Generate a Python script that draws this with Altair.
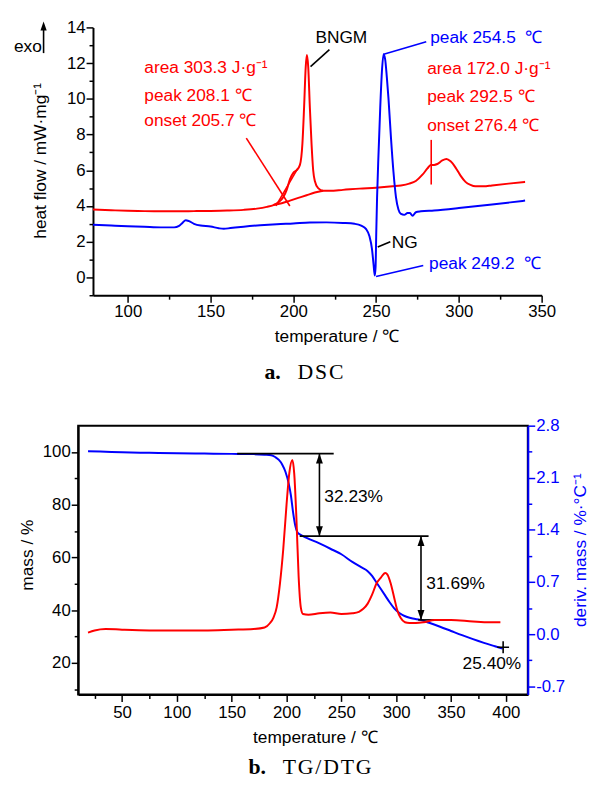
import altair as alt
import pandas as pd

FONT = "Liberation Sans, Arial, sans-serif"
SERIF = "Liberation Serif, DejaVu Serif, serif"
RED = "#ff0000"
BLUE = "#0000ff"
BLACK = "#000000"
FS = 17.5
LFS = 17

# ---------------- panel a: DSC ----------------
bngm_temp = [79, 90, 100, 110, 120, 130, 140, 150, 160, 170, 178, 184, 188, 191, 194, 196, 198, 200, 202, 204,
             205.5, 206.5, 207.5, 208.2, 209, 210, 211, 212, 213, 215, 218, 222, 230, 240, 250, 260, 265, 270, 274, 278,
             281, 283, 285, 287, 290, 292.5, 295, 298, 301, 304, 307, 310, 315, 320, 330, 340]
bngm_heat = [3.8, 3.76, 3.73, 3.71, 3.7, 3.7, 3.71, 3.72, 3.74, 3.78, 3.85, 3.95, 4.05, 4.2, 4.5, 4.9, 5.5, 5.85, 6.0, 6.3,
             7.5, 9.5, 11.8, 12.45, 11.8, 9.5, 7.5, 6.0, 5.4, 5.0, 4.85, 4.85, 4.9, 4.97, 5.02, 5.1, 5.15, 5.25, 5.4, 5.75,
             6.1, 6.3, 6.3, 6.35, 6.55, 6.63, 6.5, 6.15, 5.7, 5.35, 5.18, 5.1, 5.1, 5.15, 5.25, 5.35]
bngm_base_temp = [188, 193, 198, 203, 208, 213, 218]
bngm_base_heat = [4.05, 4.15, 4.3, 4.45, 4.6, 4.75, 4.85]

ng_temp = [79, 90, 100, 110, 120, 128, 131, 133, 135, 137, 140, 144, 150, 155, 158, 162, 170, 180, 190, 200,
           210, 220, 230, 237, 241, 244, 246, 247.5, 248.5, 249.2, 249.7, 250.1, 250.6, 251.5, 252.5, 253.5, 254.5, 255.5, 256.5, 257.5,
           259, 260.5, 262, 263.5, 265, 267, 269, 270.5, 272, 274, 277, 285, 300, 320, 340]
ng_heat = [2.95, 2.9, 2.86, 2.83, 2.8, 2.8, 2.88, 3.05, 3.2, 3.15, 3.0, 2.9, 2.85, 2.75, 2.72, 2.76, 2.84, 2.92, 2.98, 3.02,
           3.07, 3.08, 3.05, 3.0, 2.9, 2.7, 2.3, 1.6, 0.7, 0.1, 0.6, 2.5, 4.5, 7.0, 9.5, 11.5, 12.5, 12.2, 11.2, 10.0,
           7.8, 5.9, 4.5, 3.8, 3.55, 3.5, 3.6, 3.6, 3.45, 3.65, 3.7, 3.75, 3.88, 4.08, 4.3]

dsc_seg_x = [171.6, 189.5, 283.3, 221.8, 254.6, 251.0, 250.0]
dsc_seg_x2 = [197.9, 202.7, 283.3, 210.4, 280.3, 258.6, 278.5]
dsc_seg_y = [7.8, 4.0, 5.2, 12.76, 12.5, 1.7, 0.05]
dsc_seg_y2 = [4.0, 6.1, 7.7, 11.8, 13.2, 2.0, 0.66]
dsc_seg_c = [RED, RED, RED, BLACK, BLUE, BLACK, BLUE]

dsc_txt = ["area 303.3 J·g⁻¹", "peak 208.1 ℃", "onset 205.7 ℃",
           "area 172.0 J·g⁻¹", "peak 292.5 ℃", "onset 276.4 ℃",
           "peak 254.5\u00a0 ℃", "NG", "peak 249.2\u00a0 ℃"]
dsc_txt_x = [110, 110, 110, 280.9, 280.9, 280.9, 282.7, 259.5, 282.0]
dsc_txt_y = [11.75, 10.17, 8.73, 11.65, 10.1, 8.5, 13.4, 1.93, 0.72]
dsc_txt_c = [RED, RED, RED, RED, RED, RED, BLUE, BLACK, BLUE]

# ---------------- panel b: TG / DTG ----------------
tg_temp = [19, 30, 50, 75, 100, 125, 150, 170, 180, 186, 190, 193, 196, 199, 202, 204, 206, 208, 210, 212,
           215, 230, 240, 250, 260, 268, 274, 278, 282, 286, 290, 294, 298, 302, 306, 310, 315, 322, 330,
           340, 350, 360, 370, 380, 390, 397]
tg_mass = [100.3, 100.2, 99.9, 99.7, 99.5, 99.4, 99.3, 99.2, 99.0, 98.8, 98.0, 97.0, 95.3, 92.5, 88.0, 83.5, 77.0, 72.0, 69.5, 68.8,
           68.1, 65.3, 63.3, 61.2, 58.3, 56.3, 54.8, 53.0, 50.5, 48.0, 45.5, 43.0, 40.8, 39.2, 38.1, 37.4, 36.8, 36.3, 35.2,
           33.7, 32.1, 30.5, 29.0, 27.6, 26.3, 25.4]

dtg_temp = [19, 25, 35, 50, 75, 100, 125, 150, 170, 180, 185, 188, 191, 194, 197, 200, 202.5, 205.3, 207, 209,
            211, 213, 215, 220, 230, 240, 250, 260, 266, 270, 274, 278, 282, 286, 290, 292, 295, 298, 301, 304,
            308, 312, 318, 325, 335, 350, 370, 385, 395]
dtg_deriv = [0.02, 0.05, 0.07, 0.06, 0.05, 0.05, 0.05, 0.06, 0.07, 0.09, 0.15, 0.22, 0.36, 0.68, 1.14, 1.74, 2.16, 2.34, 2.16, 1.56,
             0.78, 0.36, 0.27, 0.26, 0.28, 0.29, 0.27, 0.28, 0.30, 0.34, 0.41, 0.53, 0.68, 0.76, 0.82, 0.80, 0.68, 0.50, 0.32, 0.22,
             0.16, 0.15, 0.15, 0.16, 0.19, 0.19, 0.17, 0.16, 0.16]

tg_seg_x = [155, 230, 212, 322.6, 320]
tg_seg_x2 = [243, 230, 329.5, 322.6, 336]
tg_seg_y = [99.4, 99.4, 68.1, 68.1, 36.3]
tg_seg_y2 = [99.4, 68.1, 68.1, 36.3, 36.3]
arrow_up_x = [230, 322.6]
arrow_up_y = [99.4, 68.1]
arrow_dn_x = [230, 322.6]
arrow_dn_y = [68.1, 36.3]
tg_txt = ["32.23%", "31.69%"]
tg_txt_x = [234.5, 327.5]
tg_txt_y = [83.0, 50.0]
residue_txt = ["25.40%"]
residue_x = [414]
residue_y = [19.4]
cross_x = [397.5]
cross_y = [25.9]

# tick positions (major ones labelled)
dsc_x_ticks = [100, 125, 150, 175, 200, 225, 250, 275, 300, 325, 350]
dsc_y_ticks = [-1, 0, 1, 2, 3, 4, 5, 6, 7, 8, 9, 10, 11, 12, 13, 14]
tg_x_ticks = [25, 50, 75, 100, 125, 150, 175, 200, 225, 250, 275, 300, 325, 350, 375, 400]
tg_y_ticks = [10, 20, 30, 40, 50, 60, 70, 80, 90, 100]
dtg_y_ticks = [-0.7, -0.35, 0, 0.35, 0.7, 1.05, 1.4, 1.75, 2.1, 2.45, 2.8]

# ---------------- helpers ----------------
one = pd.DataFrame({"k": [0]})


def tick_axis(values, step, fmt, color=BLACK, orient="left", offset=0, pad=2):
    test = f"abs(datum.value / {step} - round(datum.value / {step})) < 0.01"
    return alt.Axis(values=values, orient=orient, offset=offset,
                    labelExpr=f"{test} ? replace(format(datum.value, '{fmt}'), '\u2212', '-') : ''",
                    tickSize={"condition": {"test": test, "value": 7}, "value": 4},
                    domainColor=color, tickColor=color, labelColor=color, labelPadding=pad,
                    title=None, grid=False, labelOverlap=False, labelFlush=False,
                    labelFont=FONT, labelFontSize=LFS, domainWidth=2, tickWidth=1.5)


def ptext(txt, x, y, angle=0, color=BLACK, font=FONT, size=FS, weight="normal", align="center"):
    return alt.Chart(one).mark_text(text=txt, angle=angle, color=color, font=font, fontSize=size,
                                    fontWeight=weight, align=align, baseline="middle").encode(
        x=alt.value(x), y=alt.value(y))


UP = "M0,0L-0.35,1L0.35,1Z"
DOWN = "M0,0L-0.35,-1L0.35,-1Z"
TIP_UP = "M0,-1L-0.35,0L0.35,0Z"

# ---------------- top chart ----------------
dx = alt.Scale(domain=[79, 350], range=[15, 469], nice=False, zero=False)
dy = alt.Scale(domain=[-1, 14], nice=False, zero=False)
ax_dx = tick_axis(dsc_x_ticks, 50, "d", orient="bottom")
ax_dy = tick_axis(dsc_y_ticks, 2, "d", orient="left", offset=-15, pad=1)

XD = alt.X("x:Q", scale=dx, axis=ax_dx)
YD = alt.Y("y:Q", scale=dy, axis=ax_dy)

red_dsc = alt.Chart(pd.DataFrame({"x": bngm_temp, "y": bngm_heat})).mark_line(
    color=RED, strokeWidth=2, interpolate="monotone").encode(x=XD, y=YD)
red_base = alt.Chart(pd.DataFrame({"x": bngm_base_temp, "y": bngm_base_heat})).mark_line(
    color=RED, strokeWidth=2, interpolate="monotone").encode(x=XD, y=YD)
blue_dsc = alt.Chart(pd.DataFrame({"x": ng_temp, "y": ng_heat})).mark_line(
    color=BLUE, strokeWidth=2, interpolate="monotone").encode(x=XD, y=YD)
dsc_rules = alt.Chart(pd.DataFrame({"x": dsc_seg_x, "x2": dsc_seg_x2, "y": dsc_seg_y, "y2": dsc_seg_y2,
                                    "c": dsc_seg_c})).mark_rule(strokeWidth=1.6).encode(
    x=XD, x2="x2:Q", y=YD, y2="y2:Q", color=alt.Color("c:N", scale=None))
dsc_texts = alt.Chart(pd.DataFrame({"x": dsc_txt_x, "y": dsc_txt_y, "s": dsc_txt, "c": dsc_txt_c})).mark_text(
    align="left", baseline="middle", font=FONT, fontSize=FS).encode(
    x=XD, y=YD, text="s:N", color=alt.Color("c:N", scale=None))
bngm_label = alt.Chart(pd.DataFrame({"x": [229], "y": [13.4], "s": ["BNGM"]})).mark_text(
    align="center", baseline="middle", font=FONT, fontSize=FS, color=BLACK).encode(x=XD, y=YD, text="s:N")

exo_txt = ptext("exo", -65, 20, align="left")
exo_shaft = alt.Chart(one).mark_rule(color=BLACK, strokeWidth=1.6).encode(
    x=alt.value(-35), y=alt.value(26), y2=alt.value(1))
exo_head = alt.Chart(one).mark_point(shape=TIP_UP, filled=True, color=BLACK, size=324, opacity=1).encode(
    x=alt.value(-35), y=alt.value(3))
top_ytitle = ptext("heat flow / mW·mg⁻¹", -38, 135, angle=270)
top_xtitle = ptext("temperature / ℃", 262, 313)
cap_a1 = ptext("a.", 205, 349, font=SERIF, size=22, weight="bold", align="right")
cap_a2 = ptext("D\u200aS\u200aC", 222, 349, font=SERIF, size=22, align="left")

top = alt.layer(red_dsc, red_base, blue_dsc, dsc_rules, dsc_texts, bngm_label,
                exo_txt, exo_shaft, exo_head, top_ytitle, top_xtitle, cap_a1, cap_a2).properties(
    width=469, height=271, view=alt.ViewBackground(stroke="transparent"))

# ---------------- bottom chart ----------------
tx = alt.Scale(domain=[10, 420], nice=False, zero=False)
ty = alt.Scale(domain=[8, 110], nice=False, zero=False)
ry = alt.Scale(domain=[-0.81, 2.8], nice=False, zero=False)

ax_tx = tick_axis(tg_x_ticks, 50, "d", orient="bottom", pad=3)
ax_ty = tick_axis(tg_y_ticks, 20, "d", orient="left", pad=1)
ax_ry = tick_axis(dtg_y_ticks, 0.7, ".1f", color=BLUE, orient="right", pad=1)

XT = alt.X("x:Q", scale=tx, axis=ax_tx)
YT = alt.Y("y:Q", scale=ty, axis=ax_ty)

tg_line = alt.Chart(pd.DataFrame({"x": tg_temp, "y": tg_mass})).mark_line(
    color=BLUE, strokeWidth=2, interpolate="monotone").encode(x=XT, y=YT)
tg_rules = alt.Chart(pd.DataFrame({"x": tg_seg_x, "x2": tg_seg_x2, "y": tg_seg_y, "y2": tg_seg_y2})).mark_rule(
    color=BLACK, strokeWidth=1.6).encode(x=XT, x2="x2:Q", y=YT, y2="y2:Q")
tg_up = alt.Chart(pd.DataFrame({"x": arrow_up_x, "y": arrow_up_y})).mark_point(
    shape=UP, filled=True, color=BLACK, size=400, opacity=1).encode(x=XT, y=YT)
tg_dn = alt.Chart(pd.DataFrame({"x": arrow_dn_x, "y": arrow_dn_y})).mark_point(
    shape=DOWN, filled=True, color=BLACK, size=400, opacity=1).encode(x=XT, y=YT)
tg_cross = alt.Chart(pd.DataFrame({"x": cross_x, "y": cross_y})).mark_point(
    shape="M-1,0L1,0M0,-1L0,1", filled=False, color=BLACK, strokeWidth=1.6, size=144, opacity=1).encode(x=XT, y=YT)
tg_texts = alt.Chart(pd.DataFrame({"x": tg_txt_x, "y": tg_txt_y, "s": tg_txt})).mark_text(
    align="left", baseline="middle", font=FONT, fontSize=FS, color=BLACK).encode(x=XT, y=YT, text="s:N")
res_text = alt.Chart(pd.DataFrame({"x": residue_x, "y": residue_y, "s": residue_txt})).mark_text(
    align="right", baseline="middle", font=FONT, fontSize=FS, color=BLACK).encode(x=XT, y=YT, text="s:N")
bot_ytitle = ptext("mass / %", -51, 131, angle=270)
bot_rtitle = ptext("deriv. mass / %·°C⁻¹", 509, 126, angle=270, color=BLUE)
bot_xtitle = ptext("temperature / ℃", 240, 316)
cap_b1 = ptext("b.", 190, 345, font=SERIF, size=22, weight="bold", align="right")
cap_b2 = ptext("T\u200aG\u200a/\u200aD\u200aT\u200aG", 207, 345, font=SERIF, size=22, align="left")

left_part = alt.layer(tg_line, tg_rules, tg_up, tg_dn, tg_cross, tg_texts, res_text,
                      bot_ytitle, bot_rtitle, bot_xtitle, cap_b1, cap_b2)
dtg_line = alt.Chart(pd.DataFrame({"x": dtg_temp, "d": dtg_deriv})).mark_line(
    color=RED, strokeWidth=2, interpolate="monotone").encode(
    x=XT, y=alt.Y("d:Q", scale=ry, axis=ax_ry))

bottom = alt.layer(left_part, dtg_line).resolve_scale(y="independent").properties(
    width=455, height=272, view=alt.ViewBackground(stroke=BLACK, strokeWidth=2))

chart = alt.vconcat(top, bottom, spacing=32).configure_view(strokeWidth=2)

chart.save("out.html", embed_options={"renderer": "svg", "actions": False})
